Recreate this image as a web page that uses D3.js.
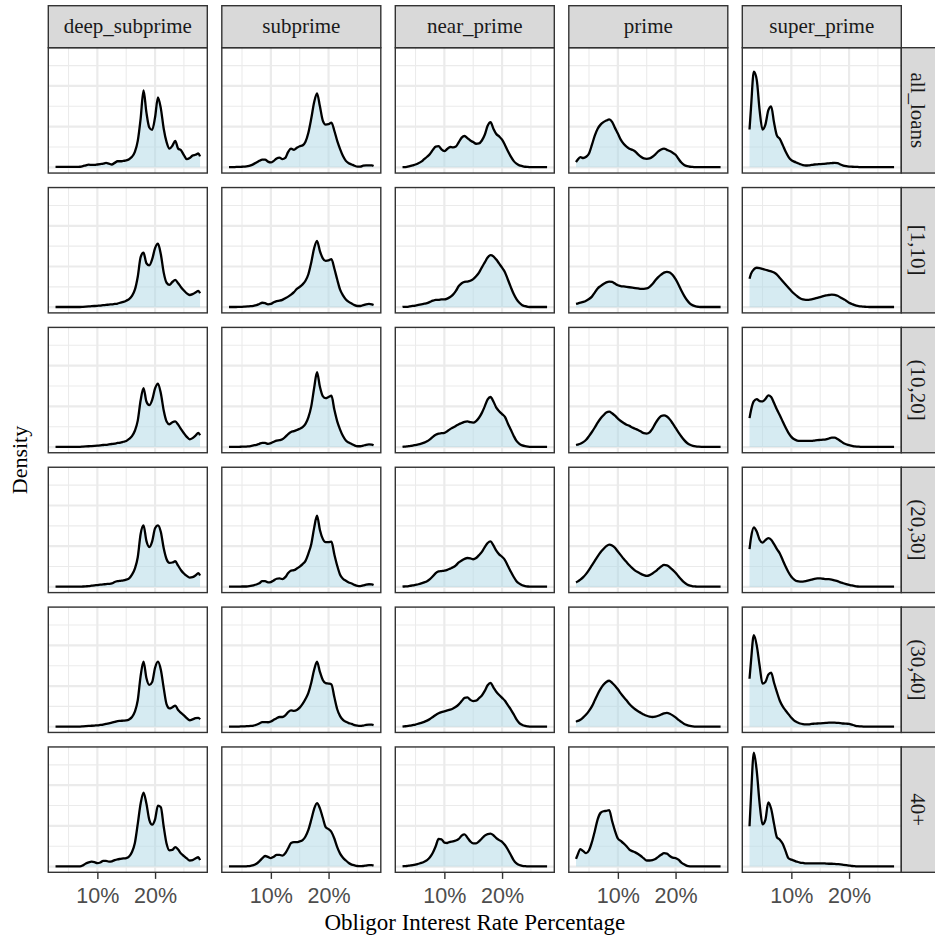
<!DOCTYPE html>
<html>
<head>
<meta charset="utf-8">
<script src="https://cdn.jsdelivr.net/npm/d3@7"></script>
<style>
  body { margin: 0; background: #fff; }
  svg { display: block; }
</style>
</head>
<body>
<div id="chart"></div>
<script>
// credit grades (columns) and loan term bands (rows)
var grades = ["deep_subprime", "subprime", "near_prime", "prime", "super_prime"];
var bands = ["all_loans", "[1,10]", "(10,20]", "(20,30]", "(30,40]", "40+"];

// interest rate (%) where the density was read
var rates = [2.75,3,3.5,4,4.5,5,5.5,6,6.5,7,7.5,8,8.5,9,9.5,10,10.5,11,11.5,12,12.5,13,13.5,14,14.5,15,15.5,16,16.5,17,17.5,18,18.5,19,19.5,20,20.5,21,21.5,22,22.5,23,23.5,24,24.5,25,25.5,26,26.5,27,27.5,27.8];

var xTickValues = [10, 20];
var xTickLabels = ["10%", "20%"];

// density per band, one array per grade (order of bands above)
var deep_subprime = [
  [0.1,0.1,0.1,0.1,0.1,0.1,0.1,0.1,0.1,0.15, 0.3,0.5,0.65,0.6,0.6,0.7,0.8,0.9,1.1,0.9, 0.7,1.1,1.5,1.5,1.6,1.7,2.0,2.6,3.8,6.5, 12,18.9,13.5,9.8,9.2,12.3,17.2,14.5,9.5,6.2, 4.6,5.3,6.5,4.6,4.2,3.0,2.0,2.3,2.9,3.1, 3.4,2.7],
  [0.05,0.05,0.05,0.05,0.05,0.05,0.05,0.05,0.05,0.05, 0.1,0.15,0.2,0.25,0.3,0.35,0.4,0.5,0.55,0.65, 0.7,0.8,0.9,1.1,1.3,1.6,2.0,2.8,4.3,7.5, 12.3,13.4,10.8,10.3,11.8,14.5,15.6,13.0,8.5,6.0, 5.5,6.2,6.7,5.9,4.9,4.1,3.4,3.0,3.2,3.6, 4.0,3.4],
  [0.05,0.05,0.05,0.05,0.05,0.05,0.05,0.05,0.05,0.05, 0.1,0.15,0.2,0.25,0.3,0.35,0.4,0.5,0.55,0.65, 0.75,0.85,1.0,1.1,1.3,1.5,2.0,2.7,4.0,6.5, 11.5,14.5,11.2,10.3,11.6,14.4,15.6,13.2,9.0,6.3, 5.6,6.1,6.3,5.5,4.4,3.4,2.5,1.9,2.2,2.8, 3.5,2.9],
  [0.05,0.05,0.05,0.05,0.05,0.05,0.05,0.05,0.05,0.05, 0.1,0.15,0.2,0.3,0.4,0.45,0.55,0.6,0.7,0.75, 0.85,1.2,1.4,1.5,1.6,1.8,2.1,3.0,4.5,7.3, 13,15.1,11.3,9.8,11.2,14.4,15.1,13.5,9.5,6.8, 5.9,6.0,6.3,5.2,4.1,3.3,2.7,2.3,2.4,2.8, 3.4,2.8],
  [0.05,0.05,0.05,0.05,0.05,0.05,0.05,0.05,0.05,0.05, 0.1,0.15,0.2,0.25,0.3,0.35,0.45,0.55,0.7,0.85, 1.0,1.2,1.4,1.45,1.5,1.55,1.8,2.4,3.7,6.5, 12.5,16.0,12,10.3,11.0,14.5,16.0,14.0,9.5,5.5, 4.5,4.8,5.2,4.1,3.4,2.8,2.1,1.6,1.8,2.1, 2.2,1.8],
  [0.05,0.05,0.05,0.05,0.05,0.05,0.05,0.05,0.05,0.05, 0.3,0.75,1.05,1.2,1.1,0.85,1.0,1.4,1.4,1.2, 1.3,1.6,1.8,1.9,2.0,2.1,2.5,3.6,5.8,10.5, 15.5,18.2,15.5,11.5,10.3,11.6,15.0,14.6,9.8,5.6, 4.0,4.1,4.8,4.2,3.2,2.6,2.0,1.5,1.6,2.0, 2.3,1.6]
];
var subprime = [
  [0.05,0.05,0.05,0.1,0.1,0.15,0.2,0.3,0.5,0.8, 1.2,1.6,1.9,1.9,1.4,1.2,1.6,2.2,2.4,2.0, 2.3,3.8,4.6,4.3,4.8,5.2,5.4,6.3,8.5,12, 16,18.2,15,11.5,10.5,10.6,11,9.0,6.5,4.5, 2.8,1.6,1.0,0.7,0.4,0.2,0.2,0.4,0.5,0.5, 0.5,0.35],
  [0.05,0.05,0.05,0.05,0.1,0.1,0.15,0.2,0.25,0.35, 0.5,0.8,1.1,1.0,0.7,0.8,1.2,1.5,1.6,1.8, 2.2,2.6,3.1,3.7,4.5,5.0,5.6,6.5,8.1,11.0, 14.5,16.3,13.8,12.0,11.4,11.5,11.8,9.5,6.8,4.3, 2.9,1.9,1.3,0.9,0.5,0.3,0.3,0.5,0.7,0.8, 0.7,0.55],
  [0.05,0.05,0.05,0.05,0.05,0.1,0.1,0.15,0.25,0.4, 0.55,0.8,1.05,1.0,0.8,0.95,1.3,1.6,1.7,1.9, 2.5,3.2,3.7,3.9,4.2,4.5,4.9,5.7,7.3,10.0, 14.5,18.4,14.8,12.5,12.0,12.3,12.6,9.2,6.3,4.3, 2.7,1.6,1.1,0.75,0.4,0.2,0.2,0.35,0.55,0.65, 0.6,0.45],
  [0.05,0.05,0.05,0.05,0.05,0.1,0.1,0.15,0.25,0.4, 0.6,0.9,1.4,1.4,1.1,1.2,1.6,2.0,2.1,1.9, 2.4,3.4,4.0,4.1,4.5,5.0,5.6,6.4,8.2,10.5, 14.5,17.5,14,11.8,11.0,11.0,11.1,8.0,5.2,3.0, 2.0,1.5,1.1,0.85,0.5,0.25,0.2,0.35,0.55,0.65, 0.6,0.45],
  [0.05,0.05,0.05,0.05,0.05,0.1,0.1,0.15,0.2,0.3, 0.5,0.8,1.15,1.15,1.1,1.3,1.7,2.1,2.4,2.4, 2.8,3.6,4.0,3.9,4.1,4.7,5.6,6.8,8.3,10.8, 14,16.0,13.5,11.5,10.7,10.6,10.4,7.3,4.3,2.6, 1.7,1.2,0.9,0.7,0.4,0.25,0.2,0.3,0.45,0.5, 0.5,0.4],
  [0.05,0.05,0.05,0.05,0.05,0.05,0.05,0.1,0.2,0.35, 0.7,1.3,2.0,2.6,2.4,2.1,2.4,2.9,2.9,2.7, 3.3,4.5,5.8,6.0,6.0,6.2,6.5,7.4,9.0,11.5, 14.2,15.6,14.3,12,9.7,9.2,8.5,6.9,4.8,3.2, 2.2,1.5,0.9,0.5,0.3,0.15,0.1,0.15,0.25,0.35, 0.35,0.25]
];
var near_prime = [
  [0.05,0.05,0.1,0.3,0.5,0.7,1.0,1.4,2.0,2.6, 3.3,4.3,5.1,5.2,4.4,4.0,4.5,5.0,4.9,5.1, 6.2,7.3,7.7,7.2,6.6,6.2,5.8,5.9,6.6,8.0, 10.2,11.1,9.5,8.2,7.6,6.8,5.5,4.0,2.7,1.6, 0.9,0.5,0.3,0.15,0.1,0.05,0.05,0.05,0.05,0.05, 0.05,0.05],
  [0.05,0.1,0.1,0.2,0.3,0.4,0.55,0.7,0.85,1.0, 1.3,1.6,1.8,1.8,1.9,1.9,2.1,2.5,3.1,4.0, 5.2,5.9,6.2,6.3,6.5,6.9,7.6,8.5,9.8,11.0, 12.2,12.8,12.5,11.7,10.7,9.7,8.6,6.8,5.0,3.3, 2.0,1.1,0.5,0.25,0.1,0.05,0.05,0.05,0.05,0.05, 0.05,0.05],
  [0.05,0.1,0.15,0.25,0.35,0.5,0.65,0.85,1.1,1.4, 1.9,2.5,3.0,3.3,3.4,3.5,3.9,4.4,4.8,5.2, 5.6,5.9,6.2,6.3,6.1,6.0,6.4,7.2,8.4,10.0, 11.7,12.3,11.2,9.7,8.8,8.1,7.4,5.8,4.3,2.8, 1.5,0.8,0.4,0.2,0.1,0.05,0.05,0.05,0.05,0.05, 0.05,0.05],
  [0.05,0.1,0.15,0.25,0.35,0.5,0.65,0.85,1.1,1.4, 1.9,2.6,3.4,3.8,3.9,4.0,4.2,4.5,4.8,5.3, 6.0,6.5,6.9,7.1,7.0,6.8,7.1,7.8,8.6,9.8, 10.8,11.2,10.2,8.9,8.0,7.4,6.6,5.2,3.8,2.5, 1.4,0.8,0.4,0.2,0.1,0.05,0.05,0.05,0.05,0.05, 0.05,0.05],
  [0.05,0.1,0.15,0.25,0.4,0.55,0.75,0.95,1.2,1.5, 1.9,2.4,2.9,3.3,3.6,3.8,4.0,4.2,4.5,4.9, 5.5,6.3,7.1,7.2,6.6,6.3,6.4,7.0,7.7,8.8, 10.2,10.8,9.7,8.6,7.8,7.1,6.4,5.3,4.3,3.1, 1.8,0.9,0.45,0.2,0.1,0.05,0.05,0.05,0.05,0.05, 0.05,0.05],
  [0.05,0.1,0.15,0.25,0.35,0.5,0.7,0.9,1.2,1.6, 2.3,3.4,5.0,6.8,6.7,5.9,5.8,6.1,6.2,6.4, 6.8,7.6,7.9,7.1,6.2,5.7,5.7,6.2,6.9,7.6, 8.0,8.1,7.7,7.0,6.5,6.1,5.3,4.2,2.9,1.6, 0.8,0.4,0.2,0.1,0.05,0.05,0.05,0.05,0.05,0.05, 0.05,0.05]
];
var prime = [
  [1.3,1.8,2.5,2.3,2.6,3.4,5.5,7.8,9.5,10.5, 11.1,11.5,11.8,11.2,9.7,8.3,6.8,5.8,5.1,4.6, 4.3,3.9,3.2,2.6,2.2,2.1,2.2,2.6,3.2,3.9, 4.4,4.6,4.3,4.0,3.6,3.1,2.1,1.2,0.6,0.3, 0.15,0.1,0.05,0.05,0.05,0.05,0.05,0.05,0.05,0.05, 0.05,0.05],
  [0.8,0.9,1.1,1.3,1.6,2.0,2.6,3.6,4.6,5.2, 5.7,6.1,6.3,6.2,5.8,5.4,5.2,5.1,5.0,4.9, 4.8,4.7,4.6,4.5,4.5,4.6,5.0,5.7,6.6,7.4, 8.0,8.5,8.7,8.5,7.9,6.9,5.6,4.1,2.8,1.7, 0.9,0.45,0.2,0.1,0.05,0.05,0.05,0.05,0.05,0.05, 0.05,0.05],
  [0.5,0.6,0.8,1.2,1.8,2.7,3.7,4.8,6.0,7.0, 7.8,8.5,8.7,8.3,7.7,7.0,6.4,5.9,5.5,5.2, 4.8,4.5,4.2,3.8,3.4,3.3,3.6,4.5,5.8,6.9, 7.6,7.8,7.5,6.8,5.8,4.7,3.6,2.6,1.7,1.0, 0.55,0.3,0.15,0.08,0.05,0.05,0.05,0.05,0.05,0.05, 0.05,0.05],
  [1.1,1.3,1.8,2.4,3.2,4.2,5.3,6.4,7.5,8.5, 9.3,10.0,10.4,10.2,9.6,8.7,7.8,6.9,6.1,5.3, 4.6,4.0,3.6,3.2,2.9,2.7,2.9,3.3,3.8,4.4, 5.0,5.4,5.3,4.8,4.2,3.5,2.6,1.8,1.1,0.6, 0.3,0.15,0.1,0.05,0.05,0.05,0.05,0.05,0.05,0.05, 0.05,0.05],
  [1.2,1.4,1.7,2.3,3.0,3.9,5.0,6.5,8.0,9.3, 10.3,11.0,11.3,10.8,10.1,9.2,8.2,7.3,6.5,5.6, 4.9,4.3,3.8,3.4,3.0,2.7,2.5,2.4,2.5,2.7, 3.0,3.3,3.4,3.2,2.8,2.3,1.7,1.2,0.7,0.4, 0.2,0.1,0.05,0.05,0.05,0.05,0.05,0.05,0.05,0.05, 0.05,0.05],
  [1.9,2.8,4.3,3.8,3.3,4.0,6.0,8.7,11.6,13.2, 13.6,13.7,13.9,11.2,8.8,6.9,6.3,5.7,5.0,4.2, 3.8,3.5,3.1,2.6,2.0,1.5,1.5,1.6,1.85,2.4, 2.9,3.3,3.2,2.6,2.2,2.1,1.7,1.0,0.55,0.2, 0.08,0.05,0.05,0.05,0.05,0.05,0.05,0.05,0.05,0.05, 0.05,0.05]
];
var super_prime = [
  [9.3,14.5,23.5,21.5,14,9.3,10.5,14,15,11, 7.8,7.0,5.5,3.9,2.6,1.8,1.4,1.1,0.8,0.55, 0.45,0.5,0.6,0.7,0.75,0.8,0.85,0.9,1.0,1.05, 1.1,1.05,0.7,0.45,0.3,0.2,0.15,0.12,0.1,0.05, 0.05,0.05,0.05,0.05,0.05,0.05,0.05,0.05,0.05,0.05, 0.05,0.05],
  [7.0,8.2,9.3,9.7,9.6,9.4,9.2,9.0,8.8,8.5, 8.0,7.2,6.4,5.6,4.8,4.0,3.3,2.7,2.2,1.9, 1.8,1.8,1.9,2.1,2.3,2.5,2.7,2.9,3.0,3.1, 3.0,2.8,2.4,2.0,1.6,1.1,0.8,0.5,0.3,0.2, 0.12,0.1,0.05,0.05,0.05,0.05,0.05,0.05,0.05,0.05, 0.05,0.05],
  [7.1,9.0,11.3,11.8,11.3,11.2,11.8,12.7,12.3,10.8, 9.2,7.8,6.3,4.8,3.5,2.5,1.9,1.6,1.5,1.5, 1.5,1.5,1.5,1.6,1.7,1.75,1.8,1.9,2.1,2.3, 2.3,2.0,1.5,1.0,0.7,0.45,0.3,0.15,0.1,0.05, 0.05,0.05,0.05,0.05,0.05,0.05,0.05,0.05,0.05,0.05, 0.05,0.05],
  [9.3,12.0,14.6,13.6,11.6,10.9,11.5,12.0,11.6,10.5, 9.3,8.2,6.6,5.0,3.6,2.5,1.8,1.4,1.3,1.3, 1.4,1.6,1.8,2.0,2.1,2.1,2.0,1.9,1.9,1.8, 1.6,1.4,1.1,0.9,0.7,0.5,0.35,0.2,0.1,0.05, 0.05,0.05,0.05,0.05,0.05,0.05,0.05,0.05,0.05,0.05, 0.05,0.05],
  [11.8,16,22.5,20,15,10.6,11.0,12.8,13.3,10.8, 8.5,6.4,5.0,4.0,3.1,2.2,1.5,1.1,0.8,0.65, 0.6,0.6,0.7,0.75,0.8,0.85,0.9,0.95,1.0,1.0, 1.0,0.95,0.9,0.8,0.75,0.7,0.5,0.3,0.15,0.1, 0.05,0.05,0.05,0.05,0.05,0.05,0.05,0.05,0.05,0.05, 0.05,0.05],
  [9.9,17,28.0,23.5,15.5,10.4,11.5,15.8,14.2,10.5, 7.2,6.6,5.6,3.8,2.05,1.7,1.45,1.2,1.0,0.9, 0.8,0.8,0.8,0.8,0.8,0.8,0.8,0.75,0.7,0.7, 0.65,0.6,0.55,0.45,0.35,0.25,0.15,0.1,0.05,0.05, 0.05,0.05,0.05,0.05,0.05,0.05,0.05,0.05,0.05,0.05, 0.05,0.05]
];

var byGrade = {
  deep_subprime: deep_subprime,
  subprime: subprime,
  near_prime: near_prime,
  prime: prime,
  super_prime: super_prime
};

//////////////////////////////////////////////////

var svgWidth = 935, svgHeight = 937;
var plotLeft = 48.3, plotRight = 901.3, plotTop = 47.7, plotBottom = 872.3;
var gap = 14.5;
var panelW = (plotRight - plotLeft - gap * 4) / 5;
var panelH = (plotBottom - plotTop - gap * 5) / 6;
var stripTop = 5.7;
var stripH = plotTop - stripTop;

var serif = "'Liberation Serif', 'DejaVu Serif', serif";
var sans = "'Liberation Sans', Arial, sans-serif";

var svg = d3.select("#chart").append("svg")
    .attr("width", svgWidth)
    .attr("height", svgHeight);

var xLo = d3.min(rates), xHi = d3.max(rates);
var xPad = (xHi - xLo) * 0.05;
var x = d3.scaleLinear()
    .domain([xLo - xPad, xHi + xPad])
    .range([0, panelW]);

var yMax = d3.max(grades, function (g) {
    return d3.max(byGrade[g], function (s) { return d3.max(s); });
});
var y = d3.scaleLinear()
    .domain([-0.05 * yMax, 1.05 * yMax])
    .range([panelH, 0]);

var xMajor = x.ticks(3).filter(function (d) { return d > x.domain()[0] && d < x.domain()[1]; });
var xMinor = [5, 15, 25];
var yMajor = y.ticks(3).filter(function (d) { return d >= 0; });
var yMinor = [5, 15, 25];

var area = d3.area()
    .x(function (d, i) { return x(rates[i]); })
    .y0(y(0))
    .y1(function (d) { return y(d); })
    .curve(d3.curveMonotoneX);

var line = d3.line()
    .x(function (d, i) { return x(rates[i]); })
    .y(function (d) { return y(d); })
    .curve(d3.curveMonotoneX);

function colX(c) { return plotLeft + c * (panelW + gap); }
function rowY(r) { return plotTop + r * (panelH + gap); }

function drawPanel(g, series) {
    g.append("rect")
        .attr("width", panelW)
        .attr("height", panelH)
        .attr("fill", "#ffffff");

    // minor grid
    g.selectAll(".vminor").data(xMinor).enter().append("line")
        .attr("x1", function (d) { return x(d); }).attr("x2", function (d) { return x(d); })
        .attr("y1", 0).attr("y2", panelH)
        .attr("stroke", "#ebebeb").attr("stroke-width", 1.1);
    g.selectAll(".hminor").data(yMinor).enter().append("line")
        .attr("y1", function (d) { return y(d); }).attr("y2", function (d) { return y(d); })
        .attr("x1", 0).attr("x2", panelW)
        .attr("stroke", "#ebebeb").attr("stroke-width", 1.1);
    // major grid
    g.selectAll(".vmajor").data(xMajor).enter().append("line")
        .attr("x1", function (d) { return x(d); }).attr("x2", function (d) { return x(d); })
        .attr("y1", 0).attr("y2", panelH)
        .attr("stroke", "#ebebeb").attr("stroke-width", 2.2);
    g.selectAll(".hmajor").data(yMajor).enter().append("line")
        .attr("y1", function (d) { return y(d); }).attr("y2", function (d) { return y(d); })
        .attr("x1", 0).attr("x2", panelW)
        .attr("stroke", "#ebebeb").attr("stroke-width", 2.2);

    g.append("path")
        .datum(series)
        .attr("d", area)
        .attr("fill", "#add8e6")
        .attr("fill-opacity", 0.5);

    g.append("path")
        .datum(series)
        .attr("d", line)
        .attr("fill", "none")
        .attr("stroke", "#000000")
        .attr("stroke-width", 2.3)
        .attr("stroke-linejoin", "round");

    g.append("rect")
        .attr("width", panelW)
        .attr("height", panelH)
        .attr("fill", "none")
        .attr("stroke", "#333333")
        .attr("stroke-width", 1.4);
}

grades.forEach(function (grade, c) {
    bands.forEach(function (band, r) {
        var g = svg.append("g")
            .attr("transform", "translate(" + colX(c) + "," + rowY(r) + ")");
        drawPanel(g, byGrade[grade][r]);
    });

    // top strip
    var s = svg.append("g").attr("transform", "translate(" + colX(c) + "," + stripTop + ")");
    s.append("rect")
        .attr("width", panelW).attr("height", stripH)
        .attr("fill", "#d9d9d9").attr("stroke", "#333333").attr("stroke-width", 1.4);
    s.append("text")
        .attr("x", panelW / 2).attr("y", stripH / 2 + 6.6)
        .attr("text-anchor", "middle")
        .style("font-family", serif).style("font-size", "21px")
        .attr("fill", "#1a1a1a")
        .text(grade);

    // bottom axis
    var ax = svg.append("g")
        .attr("transform", "translate(" + colX(c) + "," + plotBottom + ")")
        .call(d3.axisBottom(x)
            .tickValues(xTickValues)
            .tickFormat(function (d, i) { return xTickLabels[i]; })
            .tickSize(6.6)
            .tickPadding(8.5));
    ax.select(".domain").remove();
    ax.selectAll(".tick line").attr("stroke", "#333333").attr("stroke-width", 1.4);
    ax.selectAll(".tick text")
        .attr("fill", "#4d4d4d")
        .style("font-family", sans).style("font-size", "21.5px");
});

// right strips
bands.forEach(function (band, r) {
    var s = svg.append("g").attr("transform", "translate(" + plotRight + "," + rowY(r) + ")");
    s.append("rect")
        .attr("width", 45).attr("height", panelH)
        .attr("fill", "#d9d9d9").attr("stroke", "#333333").attr("stroke-width", 1.4);
    s.append("text")
        .attr("transform", "translate(" + 10 + "," + (panelH / 2) + ") rotate(90)")
        .attr("text-anchor", "middle")
        .style("font-family", serif).style("font-size", "21px")
        .attr("fill", "#1a1a1a")
        .text(band);
});

// axis titles
svg.append("text")
    .attr("x", (plotLeft + plotRight) / 2)
    .attr("y", 930)
    .attr("text-anchor", "middle")
    .style("font-family", serif).style("font-size", "23px")
    .attr("fill", "#000000")
    .text("Obligor Interest Rate Percentage");

svg.append("text")
    .attr("transform", "translate(26.6," + ((plotTop + plotBottom) / 2) + ") rotate(-90)")
    .attr("text-anchor", "middle")
    .style("font-family", serif).style("font-size", "22px")
    .attr("fill", "#000000")
    .text("Density");
</script>
</body>
</html>
